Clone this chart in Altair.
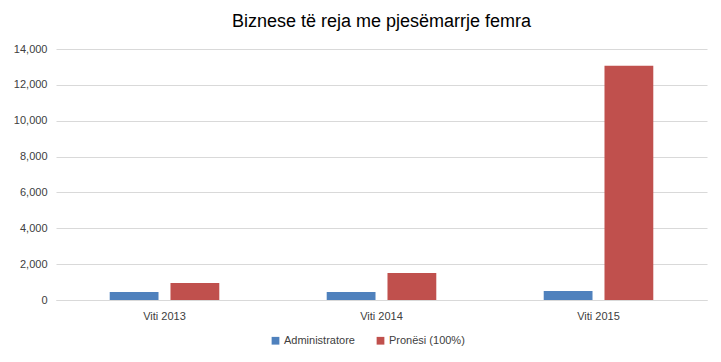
import altair as alt
import pandas as pd

categories = ["Viti 2013", "Viti 2014", "Viti 2015"]
series = ["Administratore", "Pronësi (100%)"]
administratore = [450, 450, 500]
pronesi = [950, 1510, 13070]
colors = ["#4F81BD", "#C0504D"]

rows = []
for c, a, p in zip(categories, administratore, pronesi):
    rows.append({"Viti": c, "Seria": series[0], "Vlera": a})
    rows.append({"Viti": c, "Seria": series[1], "Vlera": p})
df = pd.DataFrame(rows)

FONT = "Liberation Sans"

chart = alt.Chart(df).mark_bar().encode(
    x=alt.X("Viti:N", sort=categories, title=None,
            scale=alt.Scale(paddingInner=0.495, paddingOuter=0.2475),
            axis=alt.Axis(labelAngle=0, ticks=False, domainColor="#D9D9D9",
                          labelFontSize=11, labelColor="#404040", labelPadding=10,
                          labelFont=FONT)),
    xOffset=alt.XOffset("Seria:N", sort=series,
                        scale=alt.Scale(paddingInner=0.197, paddingOuter=0)),
    y=alt.Y("Vlera:Q", title=None,
            scale=alt.Scale(domain=[0, 14000], nice=False),
            axis=alt.Axis(values=list(range(0, 14001, 2000)), format=",.0f",
                          domain=False, ticks=False, gridColor="#D9D9D9",
                          labelFontSize=11, labelColor="#404040", labelPadding=9,
                          labelFont=FONT)),
    color=alt.Color("Seria:N", sort=series,
                    scale=alt.Scale(domain=series, range=colors),
                    legend=alt.Legend(orient="none", legendX=214, legendY=286,
                                      direction="horizontal", title=None,
                                      symbolType="square", labelOffset=3,
                                      symbolSize=60, labelFontSize=11, labelColor="#404040",
                                      labelFont=FONT, columnPadding=20,
                                      symbolStrokeWidth=0)),
).properties(
    width=651,
    height=251,
    title=alt.Title("Biznese të reja me pjesëmarrje femra", fontSize=18,
                    fontWeight="normal", color="#000000", font=FONT, offset=12,
                    anchor="middle"),
).configure_view(stroke=None)

chart.save("out.html", embed_options={"renderer": "svg", "actions": False})
